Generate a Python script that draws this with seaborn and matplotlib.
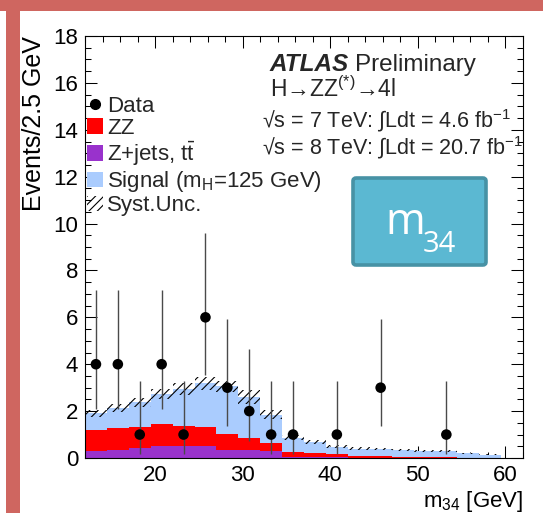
import numpy as np
import pandas as pd
import matplotlib
matplotlib.use("Agg")
import matplotlib.pyplot as plt
from matplotlib.patches import Patch, Rectangle, FancyBboxPatch
from matplotlib.lines import Line2D
from matplotlib.ticker import MultipleLocator
import seaborn as sns

# ---- binning (2.5 GeV bins in m34) ----
bin_edges = [12.0, 14.5, 17.0, 19.5, 22.0, 24.5, 27.0, 29.5, 32.0, 34.5, 37.0,
             39.5, 42.0, 44.5, 47.0, 49.5, 52.0, 54.5, 57.0, 59.5, 62.0]
bin_centers = [13.25, 15.75, 18.25, 20.75, 23.25, 25.75, 28.25, 30.75, 33.25, 35.75,
               38.25, 40.75, 43.25, 45.75, 48.25, 50.75, 53.25, 55.75, 58.25, 60.75]

# ---- expected events per bin ----
zjets_ttbar = [0.30, 0.36, 0.43, 0.50, 0.52, 0.53, 0.35, 0.35, 0.28, 0.06,
               0.04, 0.03, 0.02, 0.02, 0.01, 0.01, 0.01, 0.01, 0.00, 0.00]
zz_bkg = [0.88, 0.93, 0.90, 0.95, 0.83, 0.79, 0.67, 0.50, 0.35, 0.21,
          0.16, 0.13, 0.07, 0.05, 0.05, 0.05, 0.04, 0.01, 0.02, 0.00]
signal_125 = [0.72, 0.85, 1.04, 1.27, 1.59, 1.86, 2.03, 1.75, 1.22, 0.60,
              0.48, 0.32, 0.31, 0.30, 0.27, 0.24, 0.23, 0.18, 0.12, 0.00]
syst_unc = [0.16, 0.16, 0.21, 0.21, 0.25, 0.28, 0.25, 0.28, 0.20, 0.10,
            0.08, 0.07, 0.06, 0.05, 0.05, 0.04, 0.04, 0.03, 0.02, 0.00]

# ---- observed events (non-empty bins) with Poisson intervals ----
data_mass = [13.25, 15.75, 18.25, 20.75, 23.25, 25.75, 28.25, 30.75, 33.25, 35.75,
             40.75, 45.75, 53.25]
data_events = [4, 4, 1, 4, 1, 6, 3, 2, 1, 1, 1, 3, 1]
data_err_down = [1.91, 1.91, 0.83, 1.91, 0.83, 2.45, 1.63, 1.29, 0.83, 0.83, 0.83, 1.63, 0.83]
data_err_up = [3.16, 3.16, 2.30, 3.16, 2.30, 3.58, 2.92, 2.64, 2.30, 2.30, 2.30, 2.92, 2.30]

process_names = ["Signal", "ZZ", "Zjets"]
process_colors = {"Signal": "#aaccfe", "ZZ": "#ff0000", "Zjets": "#9932cc"}

sns.set_theme(style="ticks")
plt.rcParams["font.family"] = ["Liberation Sans", "DejaVu Sans"]
plt.rcParams["mathtext.fontset"] = "custom"
plt.rcParams["mathtext.rm"] = "Liberation Sans"
plt.rcParams["mathtext.it"] = "Liberation Sans:italic"
plt.rcParams["mathtext.bf"] = "Liberation Sans:bold"
plt.rcParams["hatch.linewidth"] = 0.8

W, H = 543, 513
fig = plt.figure(figsize=(W / 100, H / 100), dpi=100)
fig.patch.set_facecolor("white")
ax = fig.add_axes([85 / W, 55 / H, 438 / W, 422 / H])

# stacked expectation
frames = []
for name, vals in zip(["Zjets", "ZZ", "Signal"], [zjets_ttbar, zz_bkg, signal_125]):
    frames.append(pd.DataFrame({"m34": bin_centers, "events": vals, "process": name}))
mc = pd.concat(frames, ignore_index=True)

sns.histplot(data=mc, x="m34", weights="events", hue="process",
             hue_order=process_names, palette=process_colors,
             bins=bin_edges, multiple="stack", element="step", fill=True,
             alpha=1, linewidth=0, edgecolor="none", legend=False, ax=ax)

# systematic uncertainty band around the total
total = np.array(zjets_ttbar) + np.array(zz_bkg) + np.array(signal_125)
unc = np.array(syst_unc)
lo = np.append(total - unc, (total - unc)[-1])
hi = np.append(total + unc, (total + unc)[-1])
ax.fill_between(bin_edges, lo, hi, step="post", facecolor="none",
                edgecolor="black", hatch="////", linewidth=0, zorder=3)

# data with asymmetric errors
ax.errorbar(data_mass, data_events, yerr=[data_err_down, data_err_up],
            fmt="none", ecolor="#4a4a4a", elinewidth=1.0, capsize=0, zorder=4)
sns.scatterplot(x=data_mass, y=data_events, color="black", s=58,
                edgecolor="none", zorder=5, ax=ax, legend=False)

ax.set_xlim(12, 62)
ax.set_ylim(0, 18)
ax.xaxis.set_major_locator(MultipleLocator(10))
ax.xaxis.set_minor_locator(MultipleLocator(2))
ax.yaxis.set_major_locator(MultipleLocator(2))
ax.yaxis.set_minor_locator(MultipleLocator(0.5))
ax.tick_params(which="both", direction="in", top=True, right=True,
               color="black", width=0.75, labelsize=16, labelcolor="black", pad=5)
ax.tick_params(which="major", length=8.5)
ax.tick_params(which="minor", length=4.5)
for sp in ax.spines.values():
    sp.set_linewidth(0.8)
    sp.set_color("black")

ax.set_xlabel("m$_{34}$ [GeV]", fontsize=16, loc="right", color="black", labelpad=2)
ax.set_ylabel("Events/2.5 GeV", fontsize=18, loc="top", color="black")
ax.yaxis.set_label_coords(-0.088, 1.0)

# legend
handles = [
    Line2D([], [], marker="o", linestyle="none", color="black", markersize=7),
    Patch(facecolor=process_colors["ZZ"], edgecolor="none"),
    Patch(facecolor=process_colors["Zjets"], edgecolor="none"),
    Patch(facecolor=process_colors["Signal"], edgecolor="none"),
    Patch(facecolor="none", edgecolor="black", hatch="////", linewidth=0),
]
labels = ["Data", "ZZ", r"Z+jets, t$\bar{\mathrm{t}}$",
          "Signal (m$_\\mathrm{H}$=125 GeV)", "Syst.Unc."]
ax.legend(handles, labels, loc="upper left", bbox_to_anchor=(0.005, 0.859),
          frameon=False, fontsize=16, handlelength=0.7, handleheight=0.7,
          handletextpad=0.2, labelspacing=0.05, borderpad=0, borderaxespad=0)

# experiment labels
t_atlas = ax.text(0.422, 0.933, "ATLAS", transform=ax.transAxes, fontsize=17.5,
                  fontweight="bold", fontstyle="italic", va="center", ha="left")
ax.annotate("Preliminary", xy=(1, 0), xycoords=t_atlas, xytext=(4, 0),
            textcoords="offset points", fontsize=17.5, va="bottom", ha="left")
ax.text(0.422, 0.875, "H→ZZ$^{(*)}$→4l", transform=ax.transAxes, fontsize=16.5,
        va="center", ha="left")
ax.text(0.404, 0.799, "√s = 7 TeV: ∫Ldt = 4.6 fb$^{-1}$", transform=ax.transAxes,
        fontsize=15.5, va="center", ha="left")
ax.text(0.404, 0.735, "√s = 8 TeV: ∫Ldt = 20.7 fb$^{-1}$", transform=ax.transAxes,
        fontsize=15.5, va="center", ha="left")

# observable tag
box = FancyBboxPatch((353 / W, 1 - 265 / H), 133 / W, 87 / H,
                     boxstyle="round,pad=0,rounding_size=0.006",
                     transform=fig.transFigure, facecolor="#5bb8d2",
                     edgecolor="#4792a5", linewidth=2.6, zorder=6)
fig.patches.append(box)
fig.text(385 / W, 1 - 223 / H, "m", fontsize=31, family="Open Sans",
         color="white", va="center", ha="left", zorder=7)
fig.text(423 / W, 1 - 245 / H, "34", fontsize=21, family="Open Sans",
         color="white", va="center", ha="left", zorder=7)

# frame bars
fig.patches.append(Rectangle((0, 1 - 11 / H), 1, 11 / H, transform=fig.transFigure,
                             facecolor="#cf6660", edgecolor="none", zorder=10))
fig.patches.append(Rectangle((6 / W, 0), 14 / W, 1 - 11 / H, transform=fig.transFigure,
                             facecolor="#cf6660", edgecolor="none", zorder=10))

fig.savefig("out.png", dpi=100)
